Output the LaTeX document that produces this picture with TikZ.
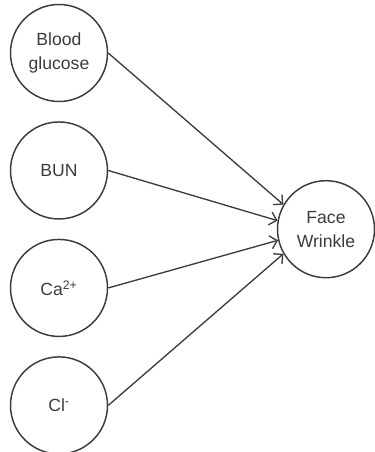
\documentclass[tikz,border=0pt]{standalone}
\usepackage{fontspec}
\setmainfont{Liberation Sans}
\usepackage{tikz}
\usetikzlibrary{positioning, arrows.meta, calc}
\definecolor{inkgray}{HTML}{3C3C3C}

\begin{document}
\begin{tikzpicture}[x=0.75pt, y=-0.75pt, >={Straight Barb[length=5pt, width=10pt]},
 font=\fontsize{13.2}{18}\selectfont, every node/.style={text=inkgray},
 factor/.style={draw=inkgray, circle, line width=1.1pt, minimum size=72.75pt,
 inner sep=0pt, align=center},
 link/.style={->, draw=inkgray, line width=1pt}]
 \useasboundingbox (0,0) rectangle (374,452);
 \node[factor] (glucose) at (59,53) {Blood\\glucose};
 \node[factor, below=14.25pt of glucose] (bun) {BUN};
 \node[factor, below=14.25pt of bun] (ca) {Ca\textsuperscript{2+}};
 \node[factor, below=14.25pt of ca] (cl) {Cl\textsuperscript{-}};
 \node[factor] (face) at ($(bun)!0.5!(ca)+(267,0)$) {Face\\Wrinkle};
 \draw[link] (glucose.east) -- (face.150);
 \draw[link] (bun.east) -- (face.170);
 \draw[link] (ca.east) -- (face.193);
 \draw[link] (cl.east) -- (face.210);
\end{tikzpicture}
\end{document}
